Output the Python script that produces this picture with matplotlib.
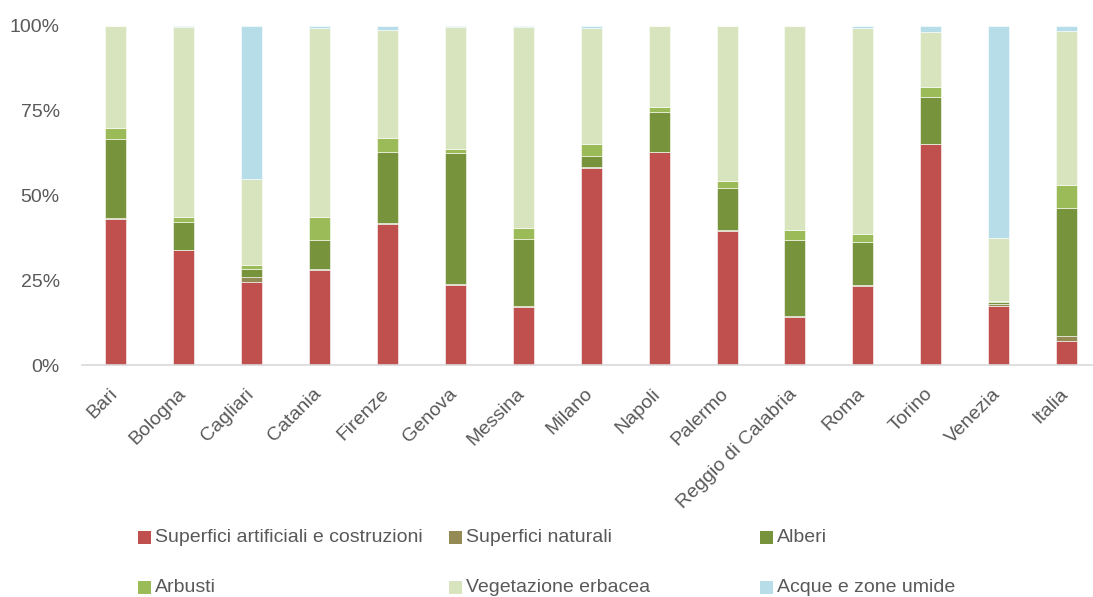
import matplotlib
matplotlib.use("Agg")
import matplotlib.pyplot as plt
from matplotlib.patches import Rectangle
import matplotlib.transforms as mtransforms
import numpy as np

plt.rcParams['font.family'] = ['Liberation Sans', 'DejaVu Sans']

cities = ["Bari", "Bologna", "Cagliari", "Catania", "Firenze", "Genova", "Messina",
          "Milano", "Napoli", "Palermo", "Reggio di Calabria", "Roma", "Torino",
          "Venezia", "Italia"]

series_names = ["Superfici artificiali e costruzioni", "Superfici naturali", "Alberi",
                "Arbusti", "Vegetazione erbacea", "Acque e zone umide"]

artificiali = [42.9, 33.8, 24.4, 28.1, 41.6, 23.6, 17.0, 58.2, 62.8, 39.4, 14.1, 23.3, 65.0, 17.3, 7.0]
naturali    = [0.3, 0.2, 1.4, 0.2, 0.2, 0.3, 0.3, 0.1, 0.1, 0.3, 0.2, 0.3, 0.2, 0.7, 1.5]
alberi      = [23.4, 8.2, 2.6, 8.4, 20.9, 38.5, 19.9, 3.4, 11.6, 12.4, 22.4, 12.7, 13.8, 0.5, 37.7]
arbusti     = [3.2, 1.5, 1.2, 7.0, 4.3, 1.4, 3.3, 3.4, 1.4, 2.2, 3.2, 2.4, 3.0, 0.5, 6.9]
erbacea     = [30.2, 55.8, 25.2, 55.5, 31.7, 35.9, 59.2, 34.3, 24.1, 45.7, 60.1, 60.7, 16.1, 18.4, 45.4]
acque       = [0.0, 0.5, 45.2, 0.8, 1.3, 0.3, 0.3, 0.6, 0.0, 0.0, 0.0, 0.6, 1.9, 62.6, 1.5]

colors = ["#C0504D", "#948A54", "#77933C", "#9BBB59", "#D7E4BD", "#B7DEE8"]
series = [artificiali, naturali, alberi, arbusti, erbacea, acque]

W, H = 1093, 597
fig = plt.figure(figsize=(W / 100, H / 100), dpi=100)
ax = fig.add_axes([82 / W, 1 - 365 / H, (1093 - 82) / W, (365 - 25.7) / H])

x = np.arange(len(cities))
bottom = np.zeros(len(cities))
for vals, col, name in zip(series, colors, series_names):
    v = np.array(vals)
    ax.bar(x, v, width=0.31, bottom=bottom, color=col, edgecolor="#FFFFFF",
           linewidth=0.4, label=name)
    bottom += v

ax.set_xlim(-0.5, (1093 - 82) / 67.9 - 0.5)
ax.set_ylim(0, 100)
ax.set_yticks([0, 25, 50, 75, 100])
ax.set_yticklabels(["0%", "25%", "50%", "75%", "100%"])
ax.set_xticks(x)
ax.set_xticklabels(cities, rotation=45, ha="right", rotation_mode="anchor")
ax.tick_params(axis="both", length=0, labelsize=14, colors="#595959")
ax.tick_params(axis="y", pad=16)
ax.tick_params(axis="x", pad=6)
offset = mtransforms.ScaledTranslation(-7 / 100, -12 / 100, fig.dpi_scale_trans)
for lbl in ax.get_xticklabels():
    lbl.set_transform(lbl.get_transform() + offset)
for s in ["top", "right", "left"]:
    ax.spines[s].set_visible(False)
ax.spines["bottom"].set_color("#D9D9D9")
ax.spines["bottom"].set_linewidth(1.2)

# legend
col_left = [138, 449, 760]
row_y = [537, 587]
sq = 13
for i, (name, col) in enumerate(zip(series_names, colors)):
    lx = col_left[i % 3]
    cy = row_y[i // 3]
    fig.patches.append(Rectangle((lx / W, 1 - (cy + sq / 2) / H), sq / W, sq / H,
                                 transform=fig.transFigure, facecolor=col, edgecolor="none"))
    fig.text((lx + 17) / W, 1 - cy / H, name, fontsize=14, color="#595959",
             va="center", ha="left")

fig.savefig("out.png", dpi=100)
